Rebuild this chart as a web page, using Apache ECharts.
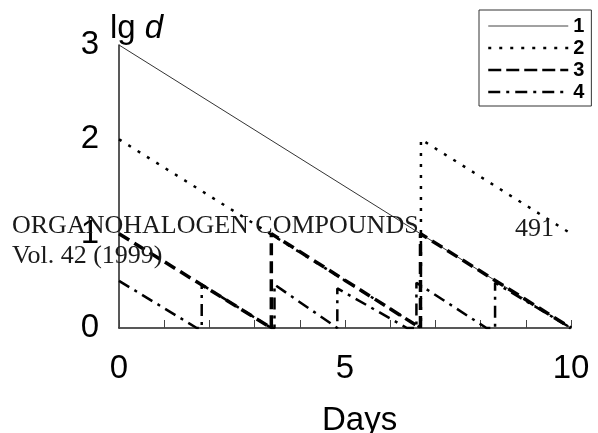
<!DOCTYPE html>
<html>
<head>
<meta charset="utf-8">
<script src="https://cdn.jsdelivr.net/npm/echarts@6/dist/echarts.min.js"></script>
<style>
html,body{margin:0;padding:0;background:#fff;}
#c{width:598px;height:433px;}
</style>
</head>
<body>
<div id="c"></div>
<script>
// Data (x = days, y = lg d)
const seriesNames = ['1', '2', '3', '4'];
const line1Days = [0, 10];
const line1Lgd  = [3, 0];
const line2Days = [0, 6.68, 6.68, 10];
const line2Lgd  = [2, 0, 2, 1];
const line3Days = [0, 3.37, 3.37, 6.67, 6.67, 10];
const line3Lgd  = [1, 0, 1, 0, 1, 0];
const line4Days = [0, 1.72, 1.83, 1.83, 3.37, 3.44, 3.44, 4.83, 4.83, 6.37, 6.58, 6.58, 8.13, 8.32, 8.32, 10];
const line4Lgd  = [0.5, 0, 0, 0.46, 0, 0, 0.46, 0, 0.42, 0, 0, 0.48, 0, 0, 0.48, 0];
const xTickLabels = [0, 5, 10];
const yTickLabels = [0, 1, 2, 3];

function zip(xs, ys) { return xs.map((x, i) => [x, ys[i]]); }

const chart = echarts.init(document.getElementById('c'), null, {renderer: 'canvas'});
const sans = 'Liberation Sans, Arial, sans-serif';
const serif = 'Liberation Serif, Times New Roman, serif';
const hidden = {opacity: 0};

const option = {
  animation: false,
  backgroundColor: '#fff',
  grid: {left: 119, right: 27, top: 45, bottom: 105, containLabel: false},
  legend: {
    orient: 'vertical',
    left: 479, top: 10,
    padding: [6, 7, 4, 8],
    itemWidth: 80, itemHeight: 14, itemGap: 2,
    backgroundColor: '#fff',
    borderColor: '#333', borderWidth: 1, borderRadius: 0,
    itemStyle: hidden,
    textStyle: {fontSize: 20, fontWeight: 'bold', fontFamily: sans, color: '#000', lineHeight: 20},
    data: [
      {name: '1', itemStyle: hidden, lineStyle: {width: 1, color: '#444', type: 'solid'}},
      {name: '2', itemStyle: hidden, lineStyle: {width: 2.5, color: '#000', type: [3, 8]}},
      {name: '3', itemStyle: hidden, lineStyle: {width: 2.5, color: '#000', type: [13, 5]}},
      {name: '4', itemStyle: hidden, lineStyle: {width: 2.5, color: '#000', type: [12, 6, 3, 6]}}
    ]
  },
  xAxis: {
    type: 'value', min: 0, max: 10, interval: 1,
    axisLine: {show: true, lineStyle: {color: '#222', width: 1.5}},
    axisTick: {show: true, inside: true, length: 8, lineStyle: {color: '#444', width: 1}},
    axisLabel: {
      fontSize: 33, fontFamily: sans, color: '#000', margin: 24,
      formatter: v => (xTickLabels.indexOf(v) >= 0 ? String(v) : '')
    },
    splitLine: {show: false}
  },
  yAxis: {
    type: 'value', min: 0, max: 3, interval: 1,
    axisLine: {show: true, lineStyle: {color: '#222', width: 1.5}},
    axisTick: {show: false},
    axisLabel: {
      fontSize: 33, fontFamily: sans, color: '#000', margin: 20,
      formatter: v => (yTickLabels.indexOf(v) >= 0 ? String(v) : '')
    },
    splitLine: {show: false}
  },
  series: [
    {name: seriesNames[0], type: 'line', symbol: 'none', data: zip(line1Days, line1Lgd),
     itemStyle: {color: '#333'}, lineStyle: {color: '#333', width: 1, type: 'solid'}, z: 3},
    {name: seriesNames[1], type: 'line', symbol: 'none', data: zip(line2Days, line2Lgd),
     itemStyle: {color: '#000'}, lineStyle: {color: '#000', width: 2.5, type: [3, 8]}, z: 3},
    {name: seriesNames[2], type: 'line', symbol: 'none', data: zip(line3Days, line3Lgd),
     itemStyle: {color: '#000'}, lineStyle: {color: '#000', width: 3.5, type: [12, 6]}, z: 3},
    {name: seriesNames[3], type: 'line', symbol: 'none', data: zip(line4Days, line4Lgd),
     itemStyle: {color: '#000'}, lineStyle: {color: '#000', width: 2.5, type: [12, 6, 3, 6]}, z: 3}
  ],
  graphic: [
    {type: 'text', left: 110, top: 12, z: 10,
     style: {rich: {a: {fontSize: 33, fontFamily: sans, fill: '#000'}, b: {fontSize: 33, fontFamily: sans, fontStyle: 'italic', fill: '#000'}},
             text: '{a|lg}{b| d}'}},
    {type: 'text', left: 322, top: 404, z: 10,
     style: {text: 'Days', fontSize: 33, fontFamily: sans, fill: '#000'}},
    {type: 'text', left: 12, top: 213, z: 10,
     style: {text: 'ORGANOHALOGEN COMPOUNDS', fontSize: 26, fontFamily: serif, fill: '#1a1a1a'}},
    {type: 'text', left: 12, top: 243, z: 10,
     style: {text: 'Vol. 42 (1999)', fontSize: 26, fontFamily: serif, fill: '#1a1a1a'}},
    {type: 'text', left: 515, top: 216, z: 10,
     style: {text: '491', fontSize: 26, fontFamily: serif, fill: '#1a1a1a'}}
  ]
};
chart.setOption(option);
</script>
</body>
</html>
